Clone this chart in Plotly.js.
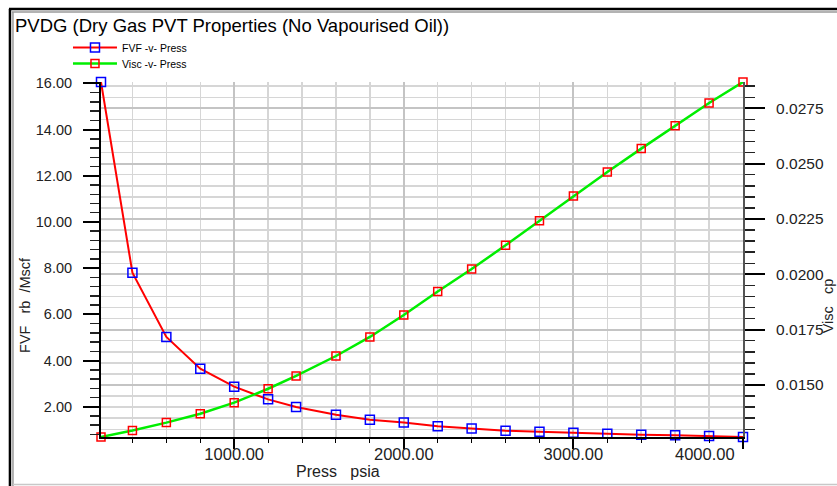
<!DOCTYPE html>
<html>
<head>
<meta charset="utf-8">
<script src="https://cdn.plot.ly/plotly-3.0.1.min.js"></script>
<style>
  html, body { margin: 0; padding: 0; background: #ffffff; }
  #chart { width: 837px; height: 486px; }
</style>
</head>
<body>
<div id="chart"></div>
<script>
// Dry gas PVT table: pressure (psia), gas formation volume factor (rb/Mscf), viscosity (cp)
const pressure = [214.7, 400, 600, 800, 1000, 1200, 1365, 1600, 1800, 2000,
                  2200, 2400, 2600, 2800, 3000, 3200, 3400, 3600, 3800, 4000];
const fvf = [16.06, 7.80, 5.02, 3.65, 2.87, 2.32, 1.99, 1.65, 1.44, 1.32,
             1.16, 1.06, 0.96, 0.92, 0.87, 0.83, 0.79, 0.77, 0.73, 0.69];
const visc = [0.01265, 0.01294, 0.01330, 0.01370, 0.01420, 0.01483, 0.01541, 0.01631, 0.01717, 0.01816,
              0.01922, 0.02024, 0.02131, 0.02242, 0.02354, 0.02462, 0.02568, 0.02671, 0.02774, 0.02869];

// pressure tick labels; the last one sits at the right edge and is pulled inward
const xTickVals = [1000, 2000, 3000, 4000];
const xTickText = ['1000.00', '2000.00', '3000.00', ''];
const xEdgeVal = 4000;
const xEdgeText = '4000.00';

const seriesNames = ['FVF -v- Press', 'Visc -v- Press'];
const chartTitle = 'PVDG (Dry Gas PVT Properties (No Vapourised Oil))';
const xTitle = 'Press&nbsp;&nbsp;&nbsp;psia';
const yTitle = 'FVF&nbsp;&nbsp;&nbsp;rb&nbsp;&nbsp;/Mscf';
const y2Title = 'Visc&nbsp;&nbsp;&nbsp;cp';

// plot-area geometry in pixels
const W = 837, H = 486;
const M = { l: 101, r: 94.3, t: 82, b: 49 };
const PW = W - M.l - M.r, PH = H - M.t - M.b;
const px = X => (X - M.l) / PW;
const py = Y => (H - M.b - Y) / PH;

const FONT = 'Liberation Sans, Arial, sans-serif';

const traces = [
  {
    x: pressure, y: fvf, name: seriesNames[0], type: 'scatter', mode: 'lines+markers',
    line: { color: '#ff0000', width: 2 },
    marker: { symbol: 'square-open', size: 9, color: '#0000ff', line: { width: 1.5, color: '#0000ff' } },
    cliponaxis: false, xaxis: 'x', yaxis: 'y', legend: 'legend'
  },
  {
    x: pressure, y: visc, name: seriesNames[1], type: 'scatter', mode: 'lines+markers',
    line: { color: '#00ee00', width: 2.5 },
    marker: { symbol: 'square-open', size: 8, color: '#ff0000', line: { width: 1.5, color: '#ff0000' } },
    cliponaxis: false, xaxis: 'x', yaxis: 'y2', legend: 'legend2'
  }
];

// window-style frame around the chart
const frame = [
  { x0: 9, y0: 9, x1: 837, y1: 9, c: '#000000', w: 2.5 },
  { x0: 12, y0: 12, x1: 837, y1: 12, c: '#9a9a9a', w: 1.5 },
  { x0: 10, y0: 9, x1: 10, y1: 486, c: '#000000', w: 2.5 },
  { x0: 13, y0: 12, x1: 13, y1: 486, c: '#9a9a9a', w: 1.5 },
  { x0: 13, y0: 484.5, x1: 837, y1: 484.5, c: '#c8c8c8', w: 1.5 }
].map(s => ({
  type: 'line', xref: 'paper', yref: 'paper', layer: 'above',
  x0: px(s.x0), x1: px(s.x1), y0: py(s.y0), y1: py(s.y1),
  line: { color: s.c, width: s.w }
}));

const legendBase = {
  xanchor: 'left', yanchor: 'top',
  bgcolor: 'rgba(0,0,0,0)', borderwidth: 0,
  font: { family: FONT, size: 10.5, color: '#000000' },
  itemwidth: 44
};

const tickFontX = { family: FONT, size: 16.5, color: '#222222' };

const layout = {
  width: W, height: H,
  margin: M,
  paper_bgcolor: '#ffffff', plot_bgcolor: '#ffffff',
  font: { family: FONT, color: '#000000' },
  title: {
    text: chartTitle,
    font: { family: FONT, size: 18.5, color: '#000000' },
    xref: 'container', yref: 'container',
    x: 15 / W, xanchor: 'left',
    y: 1 - 26 / H, yanchor: 'middle'
  },
  showlegend: true,
  legend: Object.assign({}, legendBase, { x: px(68), y: py(33) }),
  legend2: Object.assign({}, legendBase, { x: px(68), y: py(49) }),
  xaxis: {
    range: [Math.min(...pressure), Math.max(...pressure)],
    tickvals: xTickVals, ticktext: xTickText,
    ticks: 'outside', ticklen: 10, tickwidth: 2, tickcolor: '#000000',
    tickfont: tickFontX,
    ticklabelstandoff: -8,
    showline: true, linecolor: '#000000', linewidth: 1.5,
    showgrid: true, gridcolor: '#c4c4c4', gridwidth: 2,
    zeroline: false,
    minor: { tick0: 0, dtick: 200, ticks: 'outside', ticklen: 4, tickwidth: 1, tickcolor: '#000000',
             showgrid: true, gridcolor: '#d6d6d6', gridwidth: 1.5 }
  },
  yaxis: {
    range: [Math.min(...fvf), Math.max(...fvf)],
    tick0: 0, dtick: 2, tickformat: '.2f',
    ticks: 'outside', ticklen: 16, tickwidth: 2, tickcolor: '#000000',
    tickfont: { family: FONT, size: 14.5, color: '#222222' },
    ticklabelstandoff: 8,
    showline: true, linecolor: '#000000', linewidth: 2,
    showgrid: false, zeroline: false,
    minor: { tick0: 0, dtick: 0.4, ticks: 'outside', ticklen: 9, tickwidth: 1.5, tickcolor: '#222222', showgrid: false }
  },
  yaxis2: {
    overlaying: 'y', side: 'right',
    range: [Math.min(...visc), Math.max(...visc)],
    tick0: 0, dtick: 0.0025, tickformat: '.4f',
    ticks: 'outside', ticklen: 20, tickwidth: 2, tickcolor: '#000000',
    tickfont: { family: FONT, size: 15.5, color: '#222222' },
    ticklabelstandoff: 8,
    showline: true, linecolor: '#555555', linewidth: 2,
    showgrid: true, gridcolor: '#c4c4c4', gridwidth: 2,
    zeroline: false,
    minor: { tick0: 0, dtick: 0.0005, ticks: 'outside', ticklen: 10, tickwidth: 1.5, tickcolor: '#222222',
             showgrid: true, gridcolor: '#d6d6d6', gridwidth: 1.5 }
  },
  annotations: [
    // right-edge pressure label, kept inside the frame
    { text: xEdgeText, xref: 'x', yref: 'paper', x: xEdgeVal, y: py(454),
      xanchor: 'right', yanchor: 'middle', xshift: -6, showarrow: false,
      font: tickFontX },
    { text: xTitle, xref: 'paper', yref: 'paper', x: px(338), y: py(471),
      xanchor: 'center', yanchor: 'middle', showarrow: false,
      font: { family: FONT, size: 16, color: '#222222' } },
    { text: yTitle, xref: 'paper', yref: 'paper', x: px(25), y: py(305),
      xanchor: 'center', yanchor: 'middle', showarrow: false, textangle: -90,
      font: { family: FONT, size: 14.5, color: '#222222' } },
    { text: y2Title, xref: 'paper', yref: 'paper', x: px(828), y: py(306),
      xanchor: 'center', yanchor: 'middle', showarrow: false, textangle: -90,
      font: { family: FONT, size: 14.5, color: '#222222' } }
  ],
  shapes: frame
};

Plotly.newPlot('chart', traces, layout, { displayModeBar: false, staticPlot: true });
</script>
</body>
</html>
